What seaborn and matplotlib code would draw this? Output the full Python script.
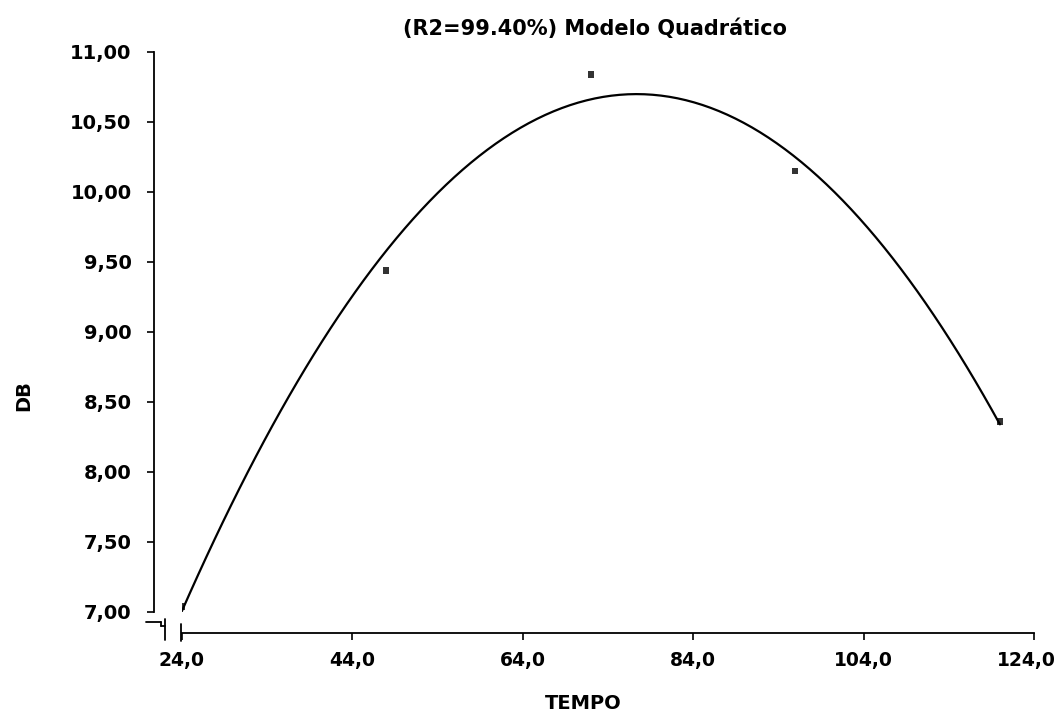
import matplotlib
matplotlib.use("Agg")
import matplotlib.pyplot as plt
from matplotlib.lines import Line2D
from matplotlib.transforms import ScaledTranslation
import seaborn as sns
import pandas as pd

# Data
tempo = [24, 48, 72, 96, 120]
db = [7.04, 9.44, 10.84, 10.15, 8.36]
x_ticks = [24, 44, 64, 84, 104, 124]
x_labels = ["24,0", "44,0", "64,0", "84,0", "104,0", "124,0"]
y_ticks = [7.0, 7.5, 8.0, 8.5, 9.0, 9.5, 10.0, 10.5, 11.0]
y_labels = ["7,00", "7,50", "8,00", "8,50", "9,00", "9,50", "10,00", "10,50", "11,00"]
title = "(R2=99.40%) Modelo Quadrático"

sns.set_theme(style="white")
plt.rcParams["font.family"] = ["DejaVu Sans"]
plt.rcParams["font.weight"] = "bold"

W, H = 1062, 713
fig = plt.figure(figsize=(W / 100, H / 100), dpi=100)
left, right, top, bottom = 181.5, 1034, 52, 612
ax = fig.add_axes([left / W, 1 - bottom / H, (right - left) / W, (bottom - top) / H])

df = pd.DataFrame({"TEMPO": tempo, "DB": db})
sns.regplot(data=df, x="TEMPO", y="DB", order=2, ci=None, truncate=True,
            marker="s", ax=ax,
            scatter_kws={"s": 20, "color": "black", "edgecolor": "none", "zorder": 3},
            line_kws={"color": "black", "lw": 1.6})

ax.set_xlim(24, 124)
ax.set_ylim(7, 11)
ax.set_xticks(x_ticks)
ax.set_xticklabels(x_labels)
ax.set_yticks(y_ticks)
ax.set_yticklabels(y_labels)

for s in ["top", "right"]:
    ax.spines[s].set_visible(False)
ax.spines["left"].set_position(("outward", 20))
ax.spines["bottom"].set_position(("outward", 15))
for s in ["left", "bottom"]:
    ax.spines[s].set_color("black")
    ax.spines[s].set_linewidth(1.3)

ax.tick_params(axis="y", direction="out", length=5, width=1.2, color="black",
               labelsize=14, pad=11, left=True)
ax.tick_params(axis="x", direction="out", length=5, width=1.2, color="black",
               labelsize=13.5, pad=8, bottom=True)
for lab in ax.get_xticklabels() + ax.get_yticklabels():
    lab.set_fontweight("bold")
    lab.set_color("black")
# keep the last x tick label inside the figure
last = ax.get_xticklabels()[-1]
last.set_transform(last.get_transform() + ScaledTranslation(-8 / 100, 0, fig.dpi_scale_trans))

ax.set_xlabel("TEMPO", fontsize=14, fontweight="bold", color="black")
ax.set_ylabel("DB", fontsize=14, fontweight="bold", color="black")
ax.xaxis.set_label_coords(0.471, -0.146)
ax.yaxis.set_label_coords(-0.174, 0.386)
ax.set_title(title, fontsize=15, fontweight="bold", color="black", x=0.485, y=1.016)

# axis-break decoration near the origin (pixel positions -> figure fraction)
def px(xp, yp):
    return xp / W, 1 - yp / H

for (x0, y0), (x1, y1) in [((146, 622), (161, 622)), ((161, 622), (161, 626)),
                           ((161, 626), (165, 626)), ((165, 619), (165, 640)),
                           ((181, 624), (181, 641))]:
    a, b = px(x0, y0)
    c, d = px(x1, y1)
    fig.add_artist(Line2D([a, c], [b, d], color="black", lw=1.3, transform=fig.transFigure))

fig.savefig("out.png", dpi=100, facecolor="white")
